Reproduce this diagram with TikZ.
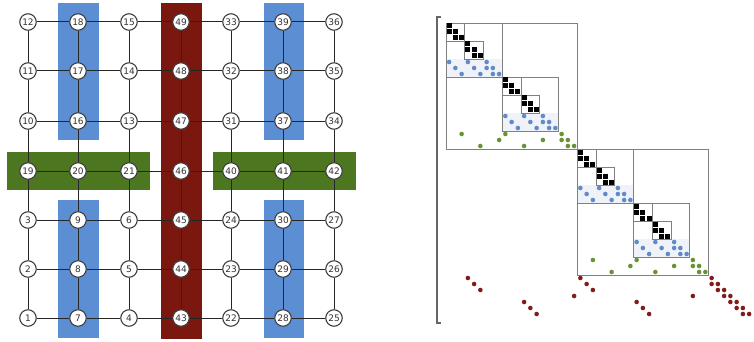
\documentclass[tikz,border=0pt]{standalone}
\usepackage{fontspec}
\setsansfont{DejaVu Sans}
\usetikzlibrary{backgrounds}

\definecolor{sepblue}{RGB}{92,142,212}
\definecolor{sepred}{RGB}{122,24,16}
\definecolor{sepgreen}{RGB}{76,118,32}
\definecolor{dotblue}{RGB}{96,138,200}
\definecolor{dotgreen}{RGB}{104,146,52}
\definecolor{dotred}{RGB}{128,28,28}

\tikzset{
  vtx/.style={circle, draw=black!75, line width=1.1pt, fill=white, minimum size=16.5pt,
    inner sep=0pt, text=black!80, font=\sffamily\fontsize{9}{9}\selectfont},
  gridedge/.style={draw=black!85, line width=1pt},
  blockbox/.style={draw=black!50, line width=0.7pt},
}

\begin{document}
\begin{tikzpicture}[x=1pt, y=-1pt]
  \useasboundingbox (0,0) rectangle (754,342);

  \fill [sepblue] (58,3) rectangle (99,140);
  \fill [sepblue] (58,200) rectangle (99,338);
  \fill [sepblue] (264,3) rectangle (304,140);
  \fill [sepblue] (264,200) rectangle (304,338);
  \fill [sepgreen] (7,152) rectangle (150,190);
  \fill [sepgreen] (213,152) rectangle (356,190);
  \fill [sepred] (161,3) rectangle (202,339);

  \node [vtx] (n12) at (28,22) {12};
  \node [vtx] (n18) at (78,22) {18};
  \node [vtx] (n15) at (129,22) {15};
  \node [vtx] (n49) at (181,22) {49};
  \node [vtx] (n33) at (231,22) {33};
  \node [vtx] (n39) at (283,22) {39};
  \node [vtx] (n36) at (334,22) {36};

  \node [vtx] (n11) at (28,71) {11};
  \node [vtx] (n17) at (78,71) {17};
  \node [vtx] (n14) at (129,71) {14};
  \node [vtx] (n48) at (181,71) {48};
  \node [vtx] (n32) at (231,71) {32};
  \node [vtx] (n38) at (283,71) {38};
  \node [vtx] (n35) at (334,71) {35};

  \node [vtx] (n10) at (28,121) {10};
  \node [vtx] (n16) at (78,121) {16};
  \node [vtx] (n13) at (129,121) {13};
  \node [vtx] (n47) at (181,121) {47};
  \node [vtx] (n31) at (231,121) {31};
  \node [vtx] (n37) at (283,121) {37};
  \node [vtx] (n34) at (334,121) {34};

  \node [vtx] (n19) at (28,171) {19};
  \node [vtx] (n20) at (78,171) {20};
  \node [vtx] (n21) at (129,171) {21};
  \node [vtx] (n46) at (181,171) {46};
  \node [vtx] (n40) at (231,171) {40};
  \node [vtx] (n41) at (283,171) {41};
  \node [vtx] (n42) at (334,171) {42};

  \node [vtx] (n3) at (28,220) {3};
  \node [vtx] (n9) at (78,220) {9};
  \node [vtx] (n6) at (129,220) {6};
  \node [vtx] (n45) at (181,220) {45};
  \node [vtx] (n24) at (231,220) {24};
  \node [vtx] (n30) at (283,220) {30};
  \node [vtx] (n27) at (334,220) {27};

  \node [vtx] (n2) at (28,269) {2};
  \node [vtx] (n8) at (78,269) {8};
  \node [vtx] (n5) at (129,269) {5};
  \node [vtx] (n44) at (181,269) {44};
  \node [vtx] (n23) at (231,269) {23};
  \node [vtx] (n29) at (283,269) {29};
  \node [vtx] (n26) at (334,269) {26};

  \node [vtx] (n1) at (28,318) {1};
  \node [vtx] (n7) at (78,318) {7};
  \node [vtx] (n4) at (129,318) {4};
  \node [vtx] (n43) at (181,318) {43};
  \node [vtx] (n22) at (231,318) {22};
  \node [vtx] (n28) at (283,318) {28};
  \node [vtx] (n25) at (334,318) {25};

  \draw [gridedge] (n12) -- (n18) -- (n15) -- (n49) -- (n33) -- (n39) -- (n36);
  \draw [gridedge] (n11) -- (n17) -- (n14) -- (n48) -- (n32) -- (n38) -- (n35);
  \draw [gridedge] (n10) -- (n16) -- (n13) -- (n47) -- (n31) -- (n37) -- (n34);
  \draw [gridedge] (n19) -- (n20) -- (n21) -- (n46) -- (n40) -- (n41) -- (n42);
  \draw [gridedge] (n3) -- (n9) -- (n6) -- (n45) -- (n24) -- (n30) -- (n27);
  \draw [gridedge] (n2) -- (n8) -- (n5) -- (n44) -- (n23) -- (n29) -- (n26);
  \draw [gridedge] (n1) -- (n7) -- (n4) -- (n43) -- (n22) -- (n28) -- (n25);

  \draw [gridedge] (n12) -- (n11) -- (n10) -- (n19) -- (n3) -- (n2) -- (n1);
  \draw [gridedge] (n18) -- (n17) -- (n16) -- (n20) -- (n9) -- (n8) -- (n7);
  \draw [gridedge] (n15) -- (n14) -- (n13) -- (n21) -- (n6) -- (n5) -- (n4);
  \draw [gridedge] (n49) -- (n48) -- (n47) -- (n46) -- (n45) -- (n44) -- (n43);
  \draw [gridedge] (n33) -- (n32) -- (n31) -- (n40) -- (n24) -- (n23) -- (n22);
  \draw [gridedge] (n39) -- (n38) -- (n37) -- (n41) -- (n30) -- (n29) -- (n28);
  \draw [gridedge] (n36) -- (n35) -- (n34) -- (n42) -- (n27) -- (n26) -- (n25);


  \draw [line width=1.2pt, black!60] (441,17) -- (437,17) -- (437,323) -- (441,323);

  \foreach \s in {1,10,22,31}
    \fill [dotblue!10] ({439.75+6.25*\s},{53+6*\s}) rectangle ++(56.25,18);

  \foreach \s/\n in {1/21,22/21,1/9,10/9,22/9,31/9,1/3,4/3,10/3,13/3,22/3,25/3,31/3,34/3}
    \draw [blockbox] ({439.75+6.25*\s},{17+6*\s}) rectangle ++({6.25*\n},{6*\n});

  \foreach \r/\c in {1/1,2/1,2/2,3/2,3/3,4/4,5/4,5/5,6/5,6/6,
                     10/10,11/10,11/11,12/11,12/12,13/13,14/13,14/14,15/14,15/15,
                     22/22,23/22,23/23,24/23,24/24,25/25,26/25,26/26,27/26,27/27,
                     31/31,32/31,32/32,33/32,33/33,34/34,35/34,35/35,36/35,36/36}
    \fill [black] ({440.375+6.25*\c},{17.5+6*\r}) rectangle ++(5,5);

  \foreach \r/\c in {7/1,7/4,7/7,8/2,8/5,8/7,8/8,9/3,9/6,9/8,9/9,
                     16/10,16/13,16/16,17/11,17/14,17/16,17/17,18/12,18/15,18/17,18/18,
                     28/22,28/25,28/28,29/23,29/26,29/28,29/29,30/24,30/27,30/29,30/30,
                     37/31,37/34,37/37,38/32,38/35,38/37,38/38,39/33,39/36,39/38,39/39}
    \fill [dotblue] ({442.875+6.25*\c},{20+6*\r}) circle (2.3);

  \foreach \r/\c in {19/3,19/10,19/19,20/9,20/16,20/19,20/20,21/6,21/13,21/20,21/21,
                     40/24,40/31,40/40,41/30,41/37,41/40,41/41,42/27,42/34,42/41,42/42}
    \fill [dotgreen] ({442.875+6.25*\c},{20+6*\r}) circle (2.3);

  \foreach \r/\c in {43/4,43/22,43/43,44/5,44/23,44/43,44/44,45/6,45/24,45/44,45/45,
                     46/21,46/40,46/45,46/46,47/13,47/31,47/46,47/47,
                     48/14,48/32,48/47,48/48,49/15,49/33,49/48,49/49}
    \fill [dotred] ({442.875+6.25*\c},{20+6*\r}) circle (2.3);
\end{tikzpicture}
\end{document}
